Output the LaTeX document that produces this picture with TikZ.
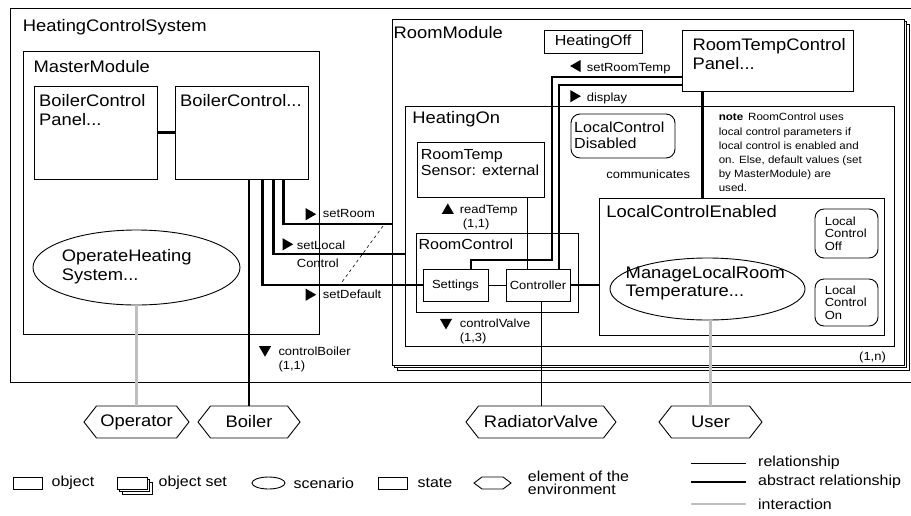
\documentclass[tikz,border=0pt]{standalone}
\usepackage{fontspec}
\setmainfont{Liberation Sans}[FakeStretch=1.1]
\usepackage{xcolor}
\usepackage{tikz}
\usetikzlibrary{shapes, arrows, positioning, shadows}

\definecolor{intergray}{gray}{0.75}
\newcommand{\hcbig}{\fontsize{16.7}{19.5}\selectfont}
\newcommand{\hcmid}{\fontsize{14.6}{16}\selectfont}
\newcommand{\hcsmall}{\fontsize{11.8}{13.8}\selectfont}
\newcommand{\hcnote}{\fontsize{10.5}{14.2}\selectfont}
\newcommand{\hcleg}{\fontsize{14.5}{13.2}\selectfont}

\begin{document}
\begin{tikzpicture}[x=1pt, y=-1pt,
    obj/.style={draw, fill=white, rectangle, inner sep=0pt, line width=0.9pt},
    objset/.style={obj, double copy shadow={shadow xshift=2.5pt, shadow yshift=-2.5pt}},
    stbox/.style={obj},
    rstbox/.style={obj, rounded corners=9pt},
    scen/.style={draw, fill=white, ellipse, inner sep=0pt, line width=0.9pt},
    env/.style={draw, fill=white, signal, signal to=east and west, signal pointer angle=104, inner sep=0pt, minimum height=32pt, line width=0.9pt, font=\hcbig},
    ttl/.style={anchor=base west, inner sep=0pt, align=left, font=\hcbig},
    sub/.style={ttl, font=\hcmid},
    lbl/.style={ttl, font=\hcsmall},
    lgtxt/.style={inner sep=0pt, align=left, font=\hcleg},
    rel/.style={line width=0.8pt},
    absrel/.style={line width=2.8pt},
    inter/.style={line width=2.8pt, intergray},
    tri/.style={regular polygon, regular polygon sides=3, fill=black, inner sep=0pt, minimum size=14pt},
  ]
  \useasboundingbox (0,0) rectangle (911,515);
  \clip (0,0) rectangle (911,515);

  \node[obj, minimum width=915pt, minimum height=374pt] (hcs) at (467.5,195) {};
  \node[ttl] (hcs-t) at (22.7,31.7) {HeatingControlSystem};

  \node[obj, minimum width=296pt, minimum height=283pt] (mm) at (171,192.5) {};
  \node[ttl] (mm-t) at (33.3,72.7) {MasterModule};
  \node[obj, minimum width=123pt, minimum height=93pt] (bcp) at (95.5,132.5) {};
  \node[ttl] (bcp-t) at (39,125.5) {BoilerControl\\Panel...};
  \node[obj, minimum width=133pt, minimum height=93pt] (bc) at (241.5,132.5) {};
  \node[ttl] (bc-t) at (180,106) {BoilerControl...};
  \node[scen, minimum width=207pt, minimum height=75pt] (ohs) at (136.5,267.5) {};
  \node[ttl] (ohs-t) at (61.7,280.5) {OperateHeating\\System...};

  \node[objset, minimum width=512pt, minimum height=346pt] (rm) at (648,192) {};
  \node[ttl] (rm-t) at (393.5,38.3) {RoomModule};
  \node[stbox, minimum width=98pt, minimum height=23pt, font=\hcmid] (hoff) at (593,41.5) {HeatingOff};
  \node[obj, minimum width=171pt, minimum height=61pt] (rtcp) at (767.5,60.5) {};
  \node[ttl] (rtcp-t) at (692.3,69.5) {RoomTempControl\\Panel...};
  \node[stbox, minimum width=489pt, minimum height=240pt] (hon) at (649.5,226) {};
  \node[ttl] (hon-t) at (412.2,123.6) {HeatingOn};
  \node[rstbox, minimum width=104pt, minimum height=44pt] (lcd) at (623,136) {};
  \node[sub] (lcd-t) at (574,148.7) {LocalControl\\Disabled};
  \node[lbl] (comm) at (606.2,178.8) {communicates};
  \node[ttl, font=\hcnote] (note) at (718.6,191.9) {\textbf{note}\hspace{5pt}RoomControl uses\\local control parameters if\\local control is enabled and\\on. Else, default values (set\\by MasterModule) are\\used.};
  \node[obj, minimum width=127pt, minimum height=55pt] (rts) at (480.5,169.5) {};
  \node[sub] (rts-t) at (420.6,175.8) {RoomTemp\\Sensor: external};
  \node[obj, minimum width=162pt, minimum height=79pt] (rc) at (497,272.5) {};
  \node[sub] (rc-t) at (418.3,249.4) {RoomControl};
  \node[obj, minimum width=65pt, minimum height=32pt, font=\hcsmall] (sett) at (455.5,285) {Settings};
  \node[obj, minimum width=64pt, minimum height=32pt, font=\hcsmall] (ctl) at (538,285) {Controller};
  \node[stbox, minimum width=285pt, minimum height=137pt] (lce) at (741.5,266.5) {};
  \node[ttl] (lce-t) at (606.2,217.9) {LocalControlEnabled};
  \node[rstbox, minimum width=63pt, minimum height=49pt] (lcoff) at (846.5,233.5) {};
  \node[lbl, font=\fontsize{11.8}{12.7}\selectfont] (lcoff-t) at (824.6,250.4) {Local\\Control\\Off};
  \node[rstbox, minimum width=63pt, minimum height=47pt] (lcon) at (846.5,302.5) {};
  \node[lbl, font=\fontsize{11.8}{12.7}\selectfont] (lcon-t) at (824.6,319.5) {Local\\Control\\On};
  \node[scen, minimum width=195pt, minimum height=62pt] (mlr) at (707.5,289) {};
  \node[ttl, font=\fontsize{16.7}{18.6}\selectfont] (mlr-t) at (625.5,296.8) {ManageLocalRoom\\Temperature...};
  \node[lbl] (rm-n) at (859,360) {(1,n)};

  \node[env, minimum width=105pt] (operator) at (136.5,422) {Operator};
  \node[env, minimum width=102pt] (boiler) at (249,422) {Boiler};
  \node[env, minimum width=150pt] (rv) at (541,422) {RadiatorValve};
  \node[env, minimum width=103pt] (user) at (710.5,422) {User};

  \coordinate (rtcpdn) at ([xshift=21pt]rtcp.south west);
  \coordinate (ctlup) at ([xshift=-11pt]ctl.north);
  \draw[absrel] (bcp.east) -- (bc.west);
  \draw[absrel] (boiler.north |- bc.south) -- (boiler.north);
  \draw[absrel] ([xshift=88pt]bc.south west) |- (sett.west);
  \draw[absrel] ([xshift=99pt]bc.south west) |- (hon.west |- 0,254);
  \draw[absrel] ([xshift=109pt]bc.south west) |- (rm.west |- 0,224);
  \draw[rel, dashed, line width=0.6pt] (383,226) -- (342,282);
  \draw[inter] (ohs.south) -- (operator.north);
  \draw[absrel] ([yshift=-16.5pt]rtcp.west) -| (552,260) -| ([xshift=15.5pt]sett.north);
  \draw[absrel] ([yshift=-24.5pt]rtcp.west) -| ([xshift=21pt]ctl.north);
  \draw[absrel] (rtcpdn) -- (rtcpdn |- lce.north);
  \draw[rel] (ctlup) -- (ctlup |- rts.south);
  \draw[rel] (sett.east) -- (ctl.west);
  \draw[absrel] (ctl.east) -- (lce.west |- ctl.east);
  \draw[rel] (rv.north |- ctl.south) -- (rv.north);
  \draw[inter] (user.north |- mlr.south) -- (user.north);

  \node[tri, rotate=-90] (a1) at (309.2,214.2) {};
  \node[lbl] (setroom) at (322.7,217.7) {setRoom};
  \node[tri, rotate=-90] (a2) at (286.2,244.3) {};
  \node[lbl, font=\fontsize{11.8}{18}\selectfont] (setlocal) at (296.7,267.3) {setLocal\\Control};
  \node[tri, rotate=-90] (a3) at (309.2,294.7) {};
  \node[lbl] (setdefault) at (322.7,298.3) {setDefault};
  \node[tri, rotate=180] (a4) at (265,349.7) {};
  \node[lbl] (ctlboiler) at (278.3,369.5) {controlBoiler\\(1,1)};
  \node[tri, rotate=90] (a5) at (577.1,66) {};
  \node[lbl] (setroomtemp) at (586.6,71) {setRoomTemp};
  \node[tri, rotate=-90] (a6) at (573.9,96.2) {};
  \node[lbl] (display) at (586.6,101) {display};
  \node[tri] (a7) at (447.8,210.4) {};
  \node[lbl] (readtemp) at (459.6,227.7) {readTemp\\\hspace{3pt}(1,1)};
  \node[tri, rotate=180] (a8) at (446,322.4) {};
  \node[lbl] (ctlvalve) at (459.6,341.1) {controlValve\\(1,3)};

  \node[obj, minimum width=29pt, minimum height=12pt] (lgobj) at (27.5,483) {};
  \node[lgtxt, right=9pt of lgobj] (lgobj-t) {object};
  \node[objset, minimum width=30pt, minimum height=12pt] (lgset) at (132,483) {};
  \node[lgtxt, right=11pt of lgset] (lgset-t) {object set};
  \node[scen, minimum width=33pt, minimum height=12pt] (lgscen) at (268.5,483) {};
  \node[lgtxt, right=8pt of lgscen] (lgscen-t) {scenario};
  \node[stbox, minimum width=29pt, minimum height=12pt] (lgstate) at (392.5,483) {};
  \node[lgtxt, right=10pt of lgstate] (lgstate-t) {state};
  \node[env, minimum width=37pt, minimum height=12pt, signal pointer angle=74] (lgenv) at (492.5,483) {};
  \node[lgtxt, right=16pt of lgenv] (lgenv-t) {element of the\\environment};
  \node[lgtxt, anchor=west] (lgrel-t) at (758,463) {relationship};
  \node[lgtxt, anchor=west] (lgabs-t) at (758,482) {abstract relationship};
  \node[lgtxt, anchor=west] (lgint-t) at (758,504) {interaction};
  \draw[rel] ([xshift=-67pt]lgrel-t.west) -- ([xshift=-12pt]lgrel-t.west);
  \draw[absrel] ([xshift=-67pt]lgabs-t.west) -- ([xshift=-12pt]lgabs-t.west);
  \draw[inter] ([xshift=-67pt]lgint-t.west) -- ([xshift=-12pt]lgint-t.west);
\end{tikzpicture}
\end{document}
